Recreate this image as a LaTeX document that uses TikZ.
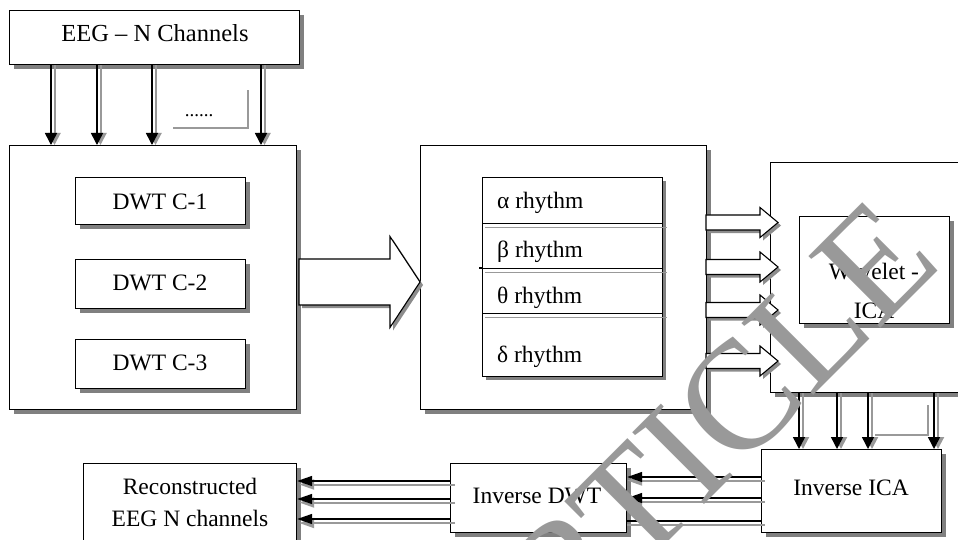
\documentclass[tikz,border=0pt]{standalone}
\usepackage{fontspec}
\setmainfont{Liberation Serif}
\usetikzlibrary{arrows.meta,calc,shadows}
\newcommand\blockarr[6]{%
  \fill[black!45] ($(#1,{#3-#4})+(3,3)$) -- ($({#2-#6},{#3-#4})+(3,3)$) -- ($({#2-#6},{#3-#5})+(3,3)$) -- ($(#2,#3)+(3,3)$) -- ($({#2-#6},{#3+#5})+(3,3)$) -- ($({#2-#6},{#3+#4})+(3,3)$) -- ($(#1,{#3+#4})+(3,3)$) -- cycle;
  \draw[line width=1.1pt, fill=white, line join=miter] (#1,{#3-#4}) -- ({#2-#6},{#3-#4}) -- ({#2-#6},{#3-#5}) -- (#2,#3) -- ({#2-#6},{#3+#5}) -- ({#2-#6},{#3+#4}) -- (#1,{#3+#4}) -- cycle;}
\begin{document}
\begin{tikzpicture}[x=1pt,y=-1pt,
  box/.style={draw=black, line width=1.2pt, fill=white, inner sep=0pt, anchor=north west,
    drop shadow={shadow xshift=4pt, shadow yshift=-4pt, fill=black!50, opacity=1}},
  plainbox/.style={draw=black, line width=1.2pt, fill=white, inner sep=0pt, anchor=north west},
  txt/.style={font=\fontsize{23.5}{28}\selectfont, inner sep=0pt, anchor=base},
  ar/.style={draw=black, line width=1.5pt, -{Triangle[length=12pt,width=12pt]}},
  arg/.style={draw=black!40, line width=2pt, -{Triangle[length=12pt,width=12pt]}},
  har/.style={draw=black, line width=1.5pt, -{Triangle[length=15pt,width=10pt]}},
  harg/.style={draw=black!40, line width=2pt, -{Triangle[length=15pt,width=10pt]}},
  hl/.style={draw=black, line width=1.5pt},
  hlg/.style={draw=black!40, line width=2pt},
  lshape/.style={draw=black!40, line width=2.6pt}
]
\useasboundingbox (0,0) rectangle (958,540);
\clip (0,0) rectangle (958,540);
\fill[white] (0,0) rectangle (958,540);

% top box
\node[box, minimum width=290pt, minimum height=54pt] (eeg) at (9,10) {};
\node[txt, font=\fontsize{24.5}{28}\selectfont] (teeg) at (155,42) {EEG – N Channels};

% left big box
\node[box, minimum width=287pt, minimum height=264pt] (dwtbox) at (9,145) {};
\node[box, minimum width=170pt, minimum height=47pt] (dwt1) at (75,177) {};
\node[box, minimum width=170pt, minimum height=49pt] (dwt2) at (75,259) {};
\node[box, minimum width=170pt, minimum height=49pt] (dwt3) at (75,339) {};
\node[txt] (tdwt1) at (160,209) {DWT C-1};
\node[txt] (tdwt2) at (160,290) {DWT C-2};
\node[txt] (tdwt3) at (160,370) {DWT C-3};

% dots with shadow L
\node[font=\fontsize{19}{20}\selectfont, inner sep=0pt, anchor=base] (dots) at (199,117) {......};
\draw[lshape] (173,128) -- (248,128) -- (248,90);

% channel arrows top
\foreach \x [count=\i] in {51,97,152,261} {
  \coordinate (tc\i) at (\x,0);
  \draw[arg] ($(eeg.south -| tc\i)+(3.5,0)$) -- ($(dwtbox.north -| tc\i)+(3.5,0)$);
  \draw[ar] (eeg.south -| tc\i) -- (dwtbox.north -| tc\i);
}

% middle box
\node[box, minimum width=286pt, minimum height=264pt] (rhybox) at (420,145) {};
\fill[black!50] (486,181) rectangle (666,380);
\node[plainbox, minimum width=180pt, minimum height=46pt] (ra) at (482,177) {};
\node[plainbox, minimum width=180pt, minimum height=45pt] (rb) at (482,223) {};
\node[plainbox, minimum width=180pt, minimum height=45pt] (rt) at (482,268) {};
\node[plainbox, minimum width=180pt, minimum height=63pt] (rd) at (482,313) {};
\draw[hlg, line width=1.6pt] (485,227.5) -- (667,227.5);
\draw[hlg, line width=1.6pt] (485,272.5) -- (667,272.5);
\draw[hlg, line width=1.6pt] (485,317.5) -- (667,317.5);
\draw[line width=1.2pt] (479,268) -- (482,268);
\node[txt, anchor=base west] (la) at (497,208) {α rhythm};
\node[txt, anchor=base west] (lb) at (497,257) {β rhythm};
\node[txt, anchor=base west] (lt) at (497,303) {θ rhythm};
\node[txt, anchor=base west] (ld) at (497,362) {δ rhythm};

% big block arrow
\blockarr{299}{420}{282}{23}{45.5}{30}

% right box
\node[box, minimum width=240pt, minimum height=230pt] (wbox) at (770,162) {};
\node[box, minimum width=150pt, minimum height=107pt] (wica) at (799,216) {};
\node[txt] (tw1) at (874,279) {Wavelet -};
\node[txt] (tw2) at (874,318) {ICA};

% four block arrows
\blockarr{706}{778}{222.5}{7.5}{15}{18}
\blockarr{706}{778}{267}{7.5}{15}{18}
\blockarr{706}{778}{310}{7.5}{15}{18}
\blockarr{706}{778}{361}{7.5}{15}{18}

% inverse ICA
\node[box, minimum width=180pt, minimum height=83pt] (iica) at (761,449) {};
\node[txt] (tiica) at (851,495) {Inverse ICA};
\foreach \x [count=\i] in {799,837,868,934} {
  \coordinate (bc\i) at (\x,0);
  \draw[arg] ($(wbox.south -| bc\i)+(4,0)$) -- ($(iica.north -| bc\i)+(4,0)$);
  \draw[ar] (wbox.south -| bc\i) -- (iica.north -| bc\i);
}
\draw[lshape] (875,435) -- (928,435) -- (928,405);

% inverse DWT
\node[box, minimum width=176pt, minimum height=69pt] (idwt) at (450,463) {};
\node[txt] (tidwt) at (537,503) {Inverse DWT};
\coordinate (h1) at (0,477);
\coordinate (h2) at (0,498);
\coordinate (h3) at (0,521);
\coordinate (g1) at (0,480.5);
\coordinate (g2) at (0,501.5);
\coordinate (g3) at (0,524.5);
\draw[harg] ($(iica.west |- g1)+(4,0)$) -- (idwt.east |- g1);
\draw[harg] ($(iica.west |- g2)+(4,0)$) -- (idwt.east |- g2);
\draw[hlg] ($(iica.west |- g3)+(4,0)$) -- (idwt.east |- g3);
\draw[har] (iica.west |- h1) -- (idwt.east |- h1);
\draw[har] (iica.west |- h2) -- (idwt.east |- h2);
\draw[hl] (iica.west |- h3) -- (idwt.east |- h3);

% reconstructed
\node[box, minimum width=213pt, minimum height=79pt] (recon) at (83,463) {};
\node[txt] (tr1) at (190,494) {Reconstructed};
\node[txt] (tr2) at (190,526) {EEG N channels};
\coordinate (k1) at (0,481);
\coordinate (k2) at (0,499);
\coordinate (k3) at (0,519);
\coordinate (m1) at (0,484.5);
\coordinate (m2) at (0,502.5);
\coordinate (m3) at (0,523);
\foreach \i in {1,2,3} {
  \draw[harg] ($(idwt.west |- m\i)+(5,0)$) -- ($(recon.east |- m\i)+(2,0)$);
  \draw[har] (idwt.west |- k\i) -- (recon.east |- k\i);
}

% watermark
\node[font=\fontsize{155}{155}\selectfont, text=black!40, rotate=45, anchor=base, inner sep=0pt] (wm) at (380,829.5) {RETRACTED ARTICLE};
\end{tikzpicture}
\end{document}
